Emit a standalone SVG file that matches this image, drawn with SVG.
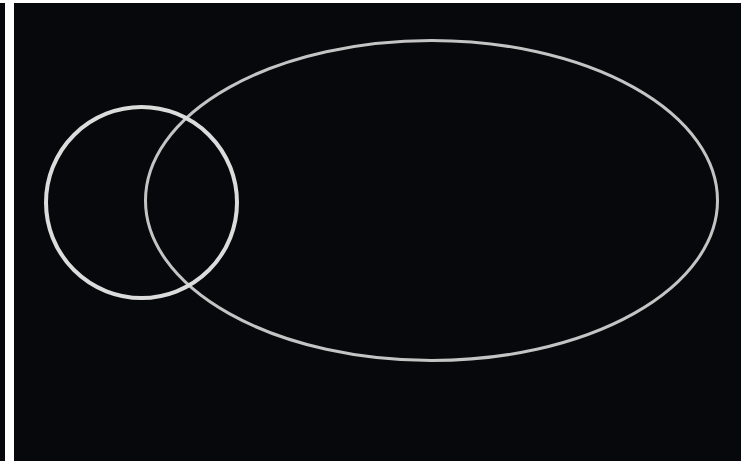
<svg xmlns="http://www.w3.org/2000/svg" width="741" height="461" viewBox="0 0 741 461">
<rect x="0" y="0" width="741" height="461" fill="#06080b"/>
<rect x="0" y="0" width="741" height="3" fill="#ffffff"/>
<rect x="5" y="0" width="9" height="461" fill="#ffffff"/>
<g id="ellipse"><ellipse cx="431.5" cy="200.5" rx="286" ry="160" fill="none" stroke="#c4c4c4" stroke-width="3"/></g>
<g id="circle"><circle cx="141.5" cy="202.5" r="95.5" fill="none" stroke="#dcdcdc" stroke-width="4"/></g>
</svg>
